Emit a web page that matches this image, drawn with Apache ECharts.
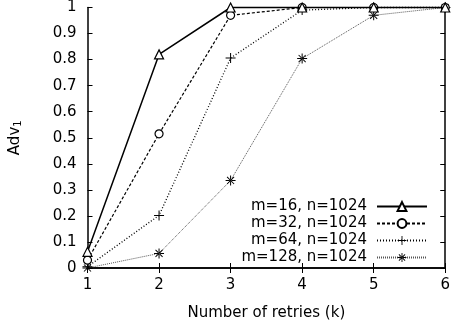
<!DOCTYPE html>
<html><head><meta charset="utf-8">
<script src="https://cdn.jsdelivr.net/npm/echarts@6/dist/echarts.min.js"></script>
<style>html,body{margin:0;padding:0;background:#fff}#c{width:453px;height:329px}</style>
</head><body><div id="c"></div>
<script>
const retries = [1, 2, 3, 4, 5, 6];
const seriesNames = ['m=16, n=1024', 'm=32, n=1024', 'm=64, n=1024', 'm=128, n=1024'];
const m16 = [0.062, 0.82, 1.0, 1.0, 1.0, 1.0];
const m32 = [0.03, 0.515, 0.97, 1.0, 1.0, 1.0];
const m64 = [0.005, 0.202, 0.806, 0.99, 1.0, 1.0];
const m128 = [0.0, 0.056, 0.336, 0.804, 0.97, 1.0];
const yTicks = [0, 0.1, 0.2, 0.3, 0.4, 0.5, 0.6, 0.7, 0.8, 0.9, 1];

const FONT = 'DejaVu Sans';
const FS = 15;
const plusPath = 'path://M-1,-0.1H1V0.1H-1Z M-0.1,-1H0.1V1H-0.1Z';
const starPath = 'path://M-1,-0.1H1V0.1H-1Z M-0.1,-1H0.1V1H-0.1Z M-0.77,-0.64L0.64,0.77L0.77,0.64L-0.64,-0.77Z M0.77,-0.64L-0.64,0.77L-0.77,0.64L0.64,-0.77Z';

function pts(arr){ return retries.map((x,i)=>[x, arr[i]]); }

const styles = [
  {data:m16, symbol:'triangle', size:9, line:{color:'#000', width:1.5, type:'solid'}, item:{color:'#fff', borderColor:'#000', borderWidth:1.2}},
  {data:m32, symbol:'circle', size:8, line:{color:'#000', width:1.2, type:[3,2]}, item:{color:'#fff', borderColor:'#000', borderWidth:1.2}},
  {data:m64, symbol:plusPath, size:10, line:{color:'#000', width:1.3, type:[1,2]}, item:{color:'#000', borderWidth:0}},
  {data:m128, symbol:starPath, size:10, line:{color:'#555', width:1, type:[1,1]}, item:{color:'#000', borderWidth:0}}
];

const chart = echarts.init(document.getElementById('c'), null, {renderer:'canvas'});
const axisLine = {show:true, lineStyle:{color:'#000', width:1.5}};
const tick = {show:true, inside:true, length:5, lineStyle:{color:'#000', width:1}};
chart.setOption({
  animation:false,
  backgroundColor:'#fff',
  grid:{left:86, right:5, top:6, bottom:61},
  legend:{
    data:seriesNames, orient:'vertical', align:'right', right:20, top:194,
    itemWidth:50, itemHeight:11, itemGap:2,
    textStyle:{fontFamily:FONT, fontSize:FS, lineHeight:14, color:'#000', padding:[0,5,0,0]}
  },
  xAxis:[{
    type:'value', min:1, max:6, interval:1,
    axisLine:axisLine, axisTick:tick, splitLine:{show:false},
    axisLabel:{fontFamily:FONT, fontSize:FS, color:'#000', margin:10},
    name:'Number of retries (k)', nameLocation:'middle', nameGap:38,
    nameTextStyle:{fontFamily:FONT, fontSize:FS, color:'#000'}
  },{
    type:'value', min:1, max:6, interval:1, position:'top',
    axisLine:axisLine, axisTick:tick, splitLine:{show:false}, axisLabel:{show:false}
  }],
  yAxis:[{
    type:'value', min:0, max:1, interval:0.1,
    axisLine:axisLine, axisTick:tick, splitLine:{show:false},
    axisLabel:{fontFamily:FONT, fontSize:FS, color:'#000', margin:11,
      formatter:function(v){ const t = yTicks.find(y=>Math.abs(y-v)<1e-9); return String(t!==undefined?t:v); }},
    name:'Adv{s|1}', nameLocation:'middle', nameGap:64, nameRotate:90,
    nameTextStyle:{fontFamily:FONT, fontSize:FS, color:'#000',
      rich:{s:{fontFamily:FONT, fontSize:10, color:'#000', verticalAlign:'bottom', padding:[6,0,0,0]}}}
  },{
    type:'value', min:0, max:1, interval:0.1, position:'right',
    axisLine:axisLine, axisTick:tick, splitLine:{show:false}, axisLabel:{show:false}
  }],
  series: styles.map((s,i)=>({
    name:seriesNames[i], type:'line', data:pts(s.data),
    symbol:s.symbol, symbolSize:s.size, showAllSymbol:true,
    lineStyle:s.line, itemStyle:s.item, z:10-i, clip:false
  }))
});
</script></body></html>
